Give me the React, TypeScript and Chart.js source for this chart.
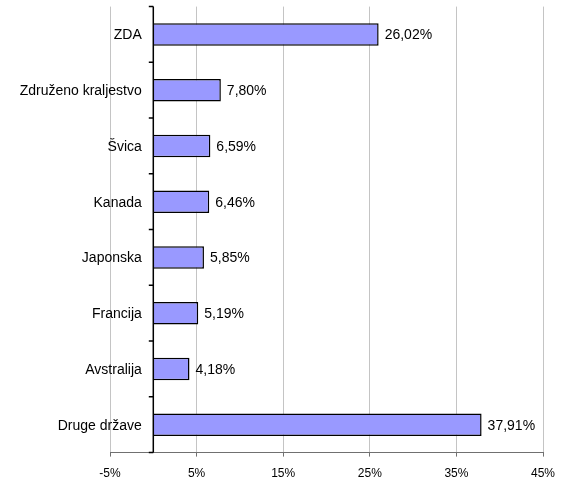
import React, { useEffect, useRef } from "react";
import { Chart, registerables } from "chart.js";

Chart.register(...registerables);

const categories = [
  "ZDA",
  "Združeno kraljestvo",
  "Švica",
  "Kanada",
  "Japonska",
  "Francija",
  "Avstralija",
  "Druge države",
];
const shares = [26.02, 7.8, 6.59, 6.46, 5.85, 5.19, 4.18, 37.91];
const xTicks = [-5, 5, 15, 25, 35, 45];

const FONT = "'Liberation Sans', Arial, sans-serif";
const fmt = (v: number) => v.toFixed(2).replace(".", ",") + "%";

const overlay = {
  id: "overlay",
  afterDatasetsDraw(chart: any) {
    const ctx = chart.ctx;
    const xs = chart.scales.x;
    const ys = chart.scales.y;
    const { top, bottom } = chart.chartArea;
    const x0 = xs.getPixelForValue(0);
    ctx.save();
    ctx.strokeStyle = "#000";
    ctx.lineWidth = 1.5;
    ctx.beginPath();
    ctx.moveTo(x0, top);
    ctx.lineTo(x0, bottom);
    for (let i = 0; i <= categories.length; i++) {
      const y = ys.getPixelForValue(i - 0.5);
      ctx.moveTo(x0 - 4.5, y);
      ctx.lineTo(x0, y);
    }
    ctx.stroke();
    ctx.font = "14px " + FONT;
    ctx.fillStyle = "#000";
    ctx.textBaseline = "middle";
    // category labels, right-aligned left of the zero axis
    ctx.textAlign = "right";
    categories.forEach((c, i) => {
      ctx.fillText(c, x0 - 11.5, ys.getPixelForValue(i) + 1);
    });
    // value labels
    ctx.textAlign = "left";
    const meta = chart.getDatasetMeta(0);
    meta.data.forEach((bar: any, i: number) => {
      ctx.fillText(fmt(shares[i]), bar.x + 6, bar.y + 1);
    });
    ctx.restore();
  },
};

export default function App() {
  const ref = useRef<HTMLCanvasElement | null>(null);
  useEffect(() => {
    if (!ref.current) return;
    const chart = new Chart(ref.current, {
      type: "bar",
      data: {
        labels: categories,
        datasets: [
          {
            data: shares,
            backgroundColor: "#9999FF",
            borderColor: "#000000",
            borderWidth: 1.5,
            barPercentage: 0.4,
            categoryPercentage: 1,
          },
        ],
      },
      options: {
        indexAxis: "y",
        animation: false,
        responsive: true,
        maintainAspectRatio: false,
        layout: { padding: { top: 6.6, right: 19, bottom: 0, left: 0 } },
        plugins: {
          legend: { display: false },
          tooltip: { enabled: false },
        },
        scales: {
          x: {
            type: "linear",
            min: -5,
            max: 45,
            afterBuildTicks: (scale: any) => {
              scale.ticks = xTicks.map((v) => ({ value: v }));
            },
            afterFit: (scale: any) => {
              scale.height = 26.4;
              scale.paddingLeft = 0;
              scale.paddingRight = 0;
            },
            grid: {
              color: "#c4c4c4",
              lineWidth: 1,
              drawTicks: true,
              tickLength: 4,
              tickColor: "#707070",
            },
            border: { display: true, color: "#707070", width: 1 },
            ticks: {
              padding: 10,
              color: "#000",
              font: { family: FONT, size: 12 },
              maxRotation: 0,
              callback: (v: any) => v + "%",
            },
          },
          y: {
            type: "category",
            offset: true,
            afterFit: (scale: any) => {
              scale.width = 110;
            },
            grid: { display: false, drawTicks: false },
            border: { display: false },
            ticks: { display: false },
          },
        },
      },
      plugins: [overlay],
    });
    return () => chart.destroy();
  }, []);
  return (
    <div style={{ position: "absolute", left: 0, top: 0, width: 562, height: 479, background: "#fff" }}>
      <canvas ref={ref} />
    </div>
  );
}
